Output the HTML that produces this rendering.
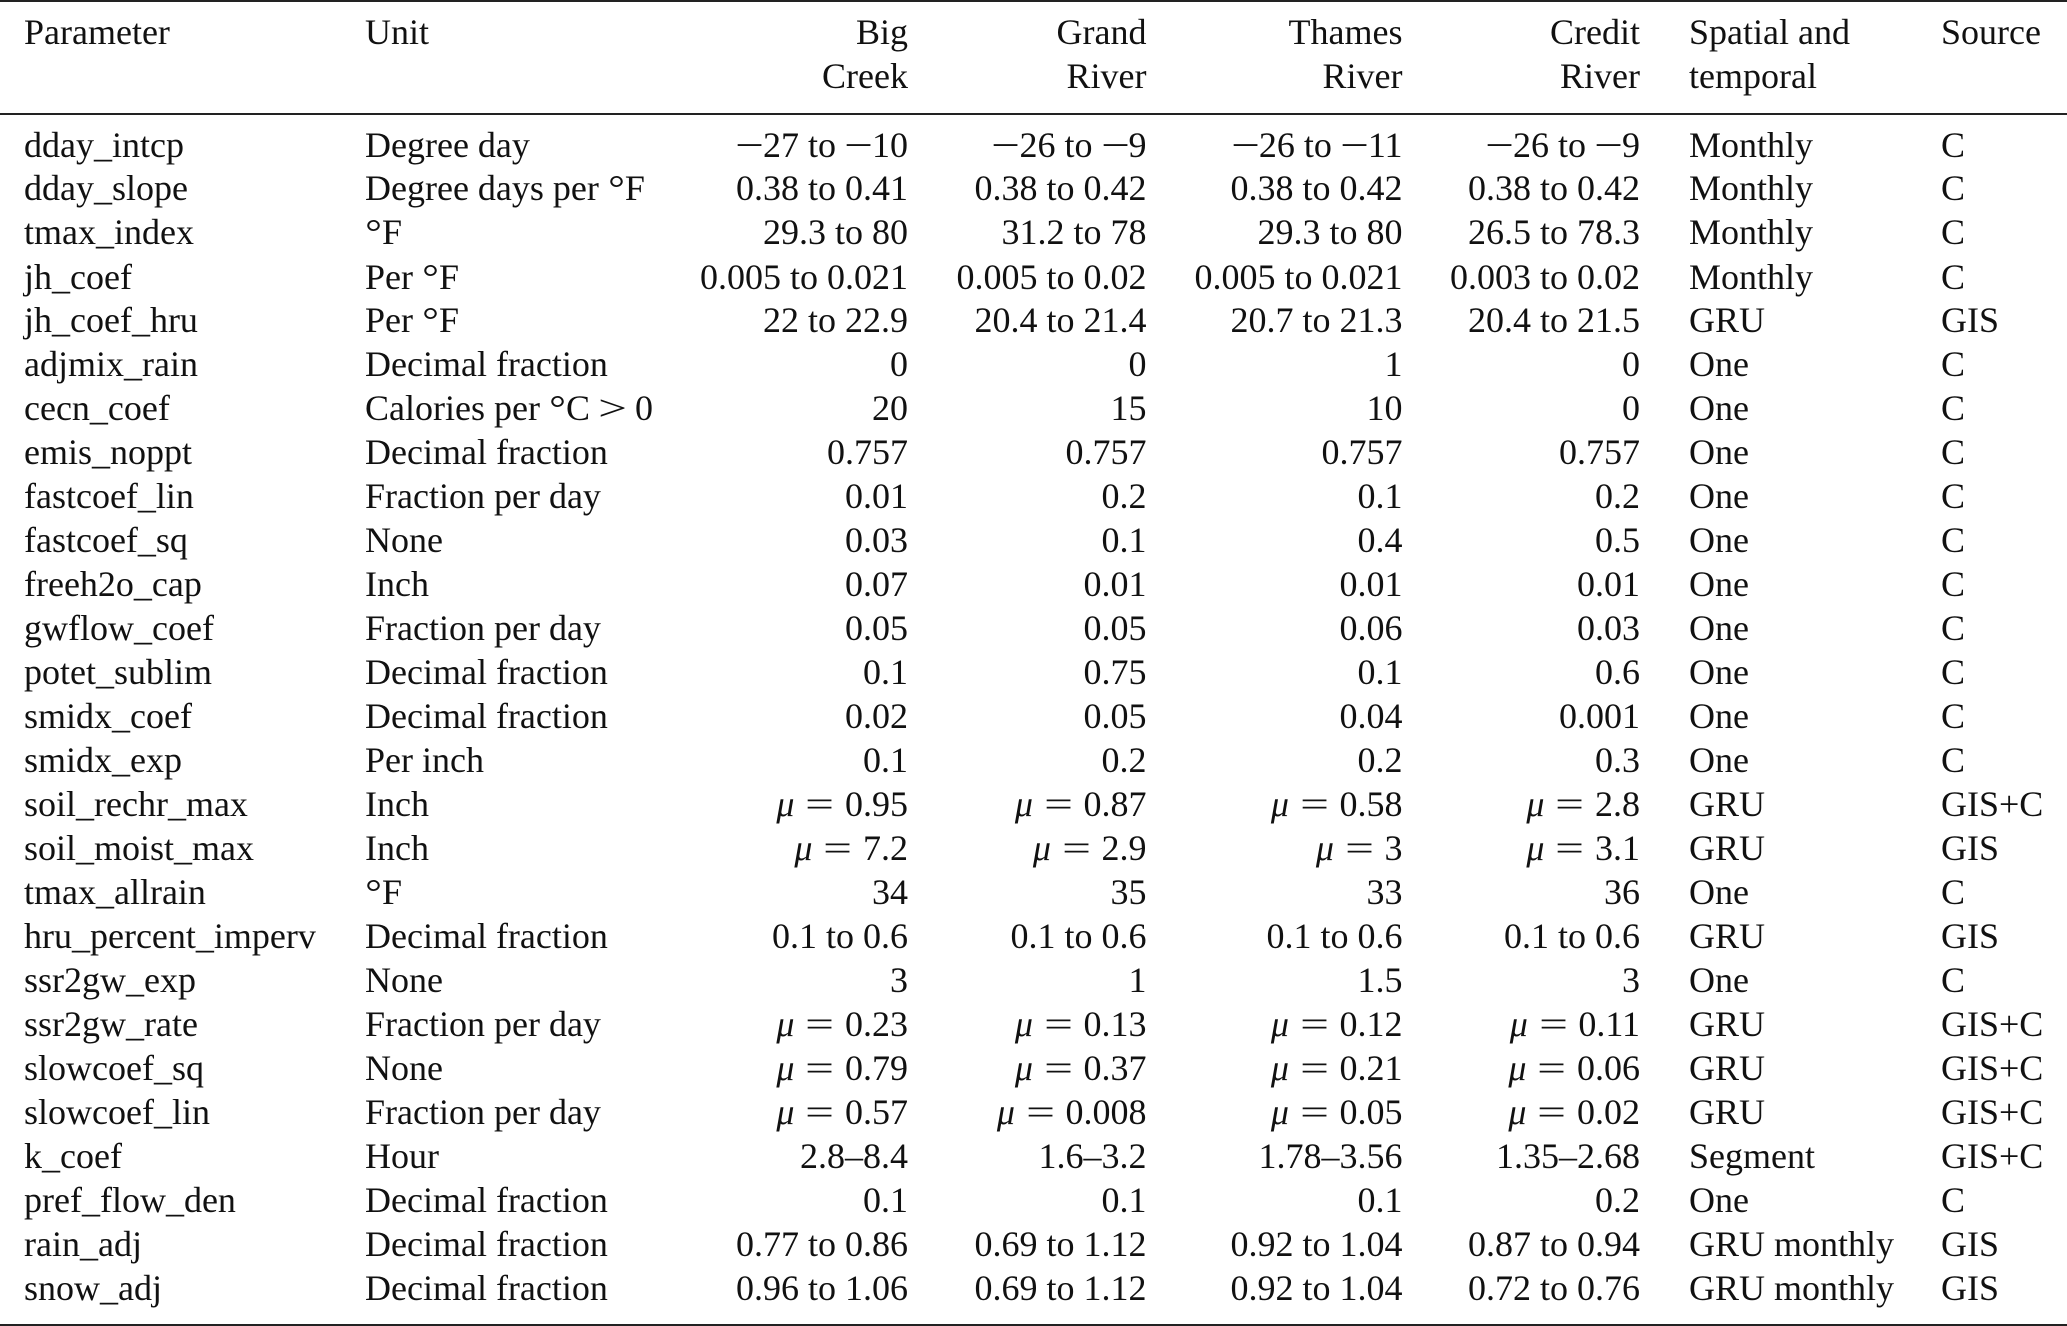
<!DOCTYPE html>
<html lang="en">
<head>
<meta charset="utf-8">
<title>Parameter table</title>
<style>
html,body{margin:0;padding:0;background:#fff}
#page{position:relative;width:2067px;height:1326px;overflow:hidden;background:#fff;color:#111;font-family:"Liberation Serif",serif;font-size:36px;line-height:44px}
.rule{position:absolute;left:0;width:2067px;background:#222}
.row{position:absolute;left:0;width:2067px;height:44px;white-space:nowrap}
.row span.p,.row span.u,.row span.b,.row span.g,.row span.t,.row span.c,.row span.s,.row span.o{position:absolute;top:0;white-space:nowrap}
.p{left:24px}.u{left:365px}.b{right:1159px}.g{right:920.5px}.t{right:664.5px}.c{right:427px}.s{left:1689px}.o{left:1941px}
.eq{word-spacing:2.75px}
.w{display:inline-block;width:27px;text-align:center;transform:scaleX(1.42)}
.d{display:inline-block;width:17px;text-align:center;transform:scaleX(1.15)}
</style>
</head>
<body>
<div id="page">
<div class="rule" style="top:0;height:2px"></div>
<div class="rule" style="top:112.5px;height:2px"></div>
<div class="rule" style="top:1324px;height:2px"></div>

<div class="row" style="top:10px"><span class="p">Parameter</span><span class="u">Unit</span><span class="b">Big</span><span class="g">Grand</span><span class="t">Thames</span><span class="c">Credit</span><span class="s">Spatial and</span><span class="o">Source</span></div>
<div class="row" style="top:54px"><span class="b">Creek</span><span class="g">River</span><span class="t">River</span><span class="c">River</span><span class="s">temporal</span></div>

<div class="row" style="top:122.6px"><span class="p">dday_intcp</span><span class="u">Degree day</span><span class="b"><span class="w">−</span>27 to <span class="w">−</span>10</span><span class="g"><span class="w">−</span>26 to <span class="w">−</span>9</span><span class="t"><span class="w">−</span>26 to <span class="w">−</span>11</span><span class="c"><span class="w">−</span>26 to <span class="w">−</span>9</span><span class="s">Monthly</span><span class="o">C</span></div>
<div class="row" style="top:166.2px"><span class="p">dday_slope</span><span class="u">Degree days per <span class="d">°</span>F</span><span class="b">0.38 to 0.41</span><span class="g">0.38 to 0.42</span><span class="t">0.38 to 0.42</span><span class="c">0.38 to 0.42</span><span class="s">Monthly</span><span class="o">C</span></div>
<div class="row" style="top:210.1px"><span class="p">tmax_index</span><span class="u"><span class="d">°</span>F</span><span class="b">29.3 to 80</span><span class="g">31.2 to 78</span><span class="t">29.3 to 80</span><span class="c">26.5 to 78.3</span><span class="s">Monthly</span><span class="o">C</span></div>
<div class="row" style="top:254.51px"><span class="p">jh_coef</span><span class="u">Per <span class="d">°</span>F</span><span class="b">0.005 to 0.021</span><span class="g">0.005 to 0.02</span><span class="t">0.005 to 0.021</span><span class="c">0.003 to 0.02</span><span class="s">Monthly</span><span class="o">C</span></div>
<div class="row" style="top:298.48px"><span class="p">jh_coef_hru</span><span class="u">Per <span class="d">°</span>F</span><span class="b">22 to 22.9</span><span class="g">20.4 to 21.4</span><span class="t">20.7 to 21.3</span><span class="c">20.4 to 21.5</span><span class="s">GRU</span><span class="o">GIS</span></div>
<div class="row" style="top:342.45px"><span class="p">adjmix_rain</span><span class="u">Decimal fraction</span><span class="b">0</span><span class="g">0</span><span class="t">1</span><span class="c">0</span><span class="s">One</span><span class="o">C</span></div>
<div class="row" style="top:386.42px"><span class="p">cecn_coef</span><span class="u">Calories per <span class="d">°</span>C <span class="w">&gt;</span> 0</span><span class="b">20</span><span class="g">15</span><span class="t">10</span><span class="c">0</span><span class="s">One</span><span class="o">C</span></div>
<div class="row" style="top:430.39px"><span class="p">emis_noppt</span><span class="u">Decimal fraction</span><span class="b">0.757</span><span class="g">0.757</span><span class="t">0.757</span><span class="c">0.757</span><span class="s">One</span><span class="o">C</span></div>
<div class="row" style="top:474.36px"><span class="p">fastcoef_lin</span><span class="u">Fraction per day</span><span class="b">0.01</span><span class="g">0.2</span><span class="t">0.1</span><span class="c">0.2</span><span class="s">One</span><span class="o">C</span></div>
<div class="row" style="top:518.33px"><span class="p">fastcoef_sq</span><span class="u">None</span><span class="b">0.03</span><span class="g">0.1</span><span class="t">0.4</span><span class="c">0.5</span><span class="s">One</span><span class="o">C</span></div>
<div class="row" style="top:562.3px"><span class="p">freeh2o_cap</span><span class="u">Inch</span><span class="b">0.07</span><span class="g">0.01</span><span class="t">0.01</span><span class="c">0.01</span><span class="s">One</span><span class="o">C</span></div>
<div class="row" style="top:606.27px"><span class="p">gwflow_coef</span><span class="u">Fraction per day</span><span class="b">0.05</span><span class="g">0.05</span><span class="t">0.06</span><span class="c">0.03</span><span class="s">One</span><span class="o">C</span></div>
<div class="row" style="top:650.24px"><span class="p">potet_sublim</span><span class="u">Decimal fraction</span><span class="b">0.1</span><span class="g">0.75</span><span class="t">0.1</span><span class="c">0.6</span><span class="s">One</span><span class="o">C</span></div>
<div class="row" style="top:694.21px"><span class="p">smidx_coef</span><span class="u">Decimal fraction</span><span class="b">0.02</span><span class="g">0.05</span><span class="t">0.04</span><span class="c">0.001</span><span class="s">One</span><span class="o">C</span></div>
<div class="row" style="top:738.18px"><span class="p">smidx_exp</span><span class="u">Per inch</span><span class="b">0.1</span><span class="g">0.2</span><span class="t">0.2</span><span class="c">0.3</span><span class="s">One</span><span class="o">C</span></div>
<div class="row" style="top:782.15px"><span class="p">soil_rechr_max</span><span class="u">Inch</span><span class="b eq"><i>μ</i> <span class="w">=</span> 0.95</span><span class="g eq"><i>μ</i> <span class="w">=</span> 0.87</span><span class="t eq"><i>μ</i> <span class="w">=</span> 0.58</span><span class="c eq"><i>μ</i> <span class="w">=</span> 2.8</span><span class="s">GRU</span><span class="o">GIS+C</span></div>
<div class="row" style="top:826.12px"><span class="p">soil_moist_max</span><span class="u">Inch</span><span class="b eq"><i>μ</i> <span class="w">=</span> 7.2</span><span class="g eq"><i>μ</i> <span class="w">=</span> 2.9</span><span class="t eq"><i>μ</i> <span class="w">=</span> 3</span><span class="c eq"><i>μ</i> <span class="w">=</span> 3.1</span><span class="s">GRU</span><span class="o">GIS</span></div>
<div class="row" style="top:870.09px"><span class="p">tmax_allrain</span><span class="u"><span class="d">°</span>F</span><span class="b">34</span><span class="g">35</span><span class="t">33</span><span class="c">36</span><span class="s">One</span><span class="o">C</span></div>
<div class="row" style="top:914.06px"><span class="p">hru_percent_imperv</span><span class="u">Decimal fraction</span><span class="b">0.1 to 0.6</span><span class="g">0.1 to 0.6</span><span class="t">0.1 to 0.6</span><span class="c">0.1 to 0.6</span><span class="s">GRU</span><span class="o">GIS</span></div>
<div class="row" style="top:957.6px"><span class="p">ssr2gw_exp</span><span class="u">None</span><span class="b">3</span><span class="g">1</span><span class="t">1.5</span><span class="c">3</span><span class="s">One</span><span class="o">C</span></div>
<div class="row" style="top:1002px"><span class="p">ssr2gw_rate</span><span class="u">Fraction per day</span><span class="b eq"><i>μ</i> <span class="w">=</span> 0.23</span><span class="g eq"><i>μ</i> <span class="w">=</span> 0.13</span><span class="t eq"><i>μ</i> <span class="w">=</span> 0.12</span><span class="c eq"><i>μ</i> <span class="w">=</span> 0.11</span><span class="s">GRU</span><span class="o">GIS+C</span></div>
<div class="row" style="top:1045.97px"><span class="p">slowcoef_sq</span><span class="u">None</span><span class="b eq"><i>μ</i> <span class="w">=</span> 0.79</span><span class="g eq"><i>μ</i> <span class="w">=</span> 0.37</span><span class="t eq"><i>μ</i> <span class="w">=</span> 0.21</span><span class="c eq"><i>μ</i> <span class="w">=</span> 0.06</span><span class="s">GRU</span><span class="o">GIS+C</span></div>
<div class="row" style="top:1089.94px"><span class="p">slowcoef_lin</span><span class="u">Fraction per day</span><span class="b eq"><i>μ</i> <span class="w">=</span> 0.57</span><span class="g eq"><i>μ</i> <span class="w">=</span> 0.008</span><span class="t eq"><i>μ</i> <span class="w">=</span> 0.05</span><span class="c eq"><i>μ</i> <span class="w">=</span> 0.02</span><span class="s">GRU</span><span class="o">GIS+C</span></div>
<div class="row" style="top:1133.91px"><span class="p">k_coef</span><span class="u">Hour</span><span class="b">2.8–8.4</span><span class="g">1.6–3.2</span><span class="t">1.78–3.56</span><span class="c">1.35–2.68</span><span class="s">Segment</span><span class="o">GIS+C</span></div>
<div class="row" style="top:1177.88px"><span class="p">pref_flow_den</span><span class="u">Decimal fraction</span><span class="b">0.1</span><span class="g">0.1</span><span class="t">0.1</span><span class="c">0.2</span><span class="s">One</span><span class="o">C</span></div>
<div class="row" style="top:1221.85px"><span class="p">rain_adj</span><span class="u">Decimal fraction</span><span class="b">0.77 to 0.86</span><span class="g">0.69 to 1.12</span><span class="t">0.92 to 1.04</span><span class="c">0.87 to 0.94</span><span class="s">GRU monthly</span><span class="o">GIS</span></div>
<div class="row" style="top:1265.82px"><span class="p">snow_adj</span><span class="u">Decimal fraction</span><span class="b">0.96 to 1.06</span><span class="g">0.69 to 1.12</span><span class="t">0.92 to 1.04</span><span class="c">0.72 to 0.76</span><span class="s">GRU monthly</span><span class="o">GIS</span></div>
</div>
</body>
</html>
